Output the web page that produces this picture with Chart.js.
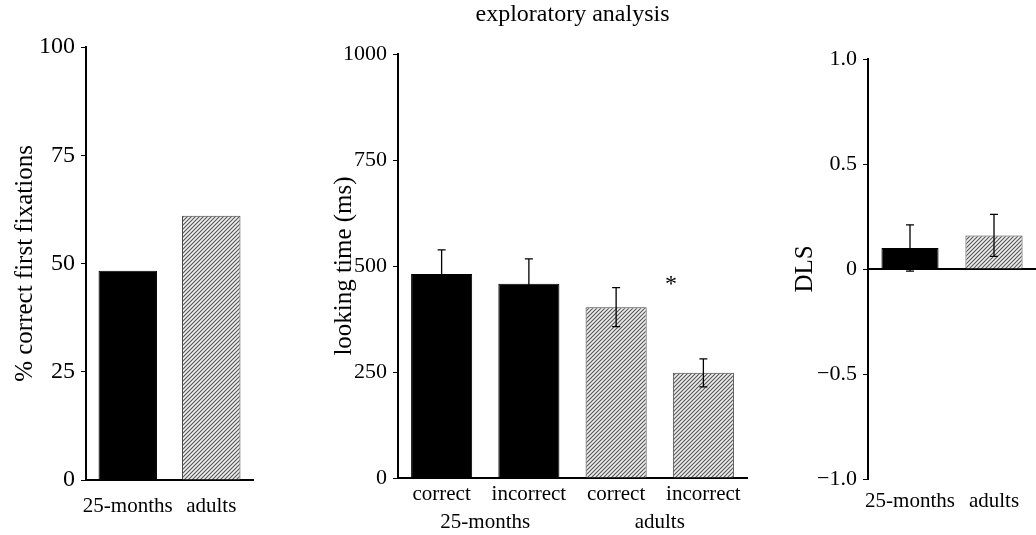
<!DOCTYPE html>
<html>
<head>
<meta charset="utf-8">
<script src="https://cdn.jsdelivr.net/npm/chart.js@4"></script>
<style>
  html, body { margin: 0; padding: 0; background: #fff; }
  #wrap { position: relative; width: 1036px; height: 535px; }
  .panel { position: absolute; top: 0; height: 535px; }
  #p1 { left: 0; width: 262px; }
  #p2 { left: 325px; width: 430px; }
  #p3 { left: 790px; width: 246px; }
</style>
</head>
<body>
<div id="wrap">
  <div class="panel" id="p1"><canvas id="c1"></canvas></div>
  <div class="panel" id="p2"><canvas id="c2"></canvas></div>
  <div class="panel" id="p3"><canvas id="c3"></canvas></div>
</div>
<script>
// panel 1 - first fixations
const groups = ['25-months', 'adults'];
const fixationPct = [48.3, 61.0];
const pctTicks = ['0', '25', '50', '75', '100'];

// panel 2 - looking time
const lookCats = ['correct', 'incorrect', 'correct', 'incorrect'];
const lookGroups = ['25-months', 'adults'];
const lookMs = [481, 458, 403, 248];
const lookErr = [57, 59, 46, 33];
const msTicks = ['0', '250', '500', '750', '1000'];

// panel 3 - DLS
const dlsVals = [0.10, 0.16];
const dlsErr = [0.11, 0.10];
const dlsTicks = ['\u22121.0', '\u22120.5', '0', '0.5', '1.0'];

Chart.defaults.font.family = "'Liberation Serif', 'Times New Roman', serif";
Chart.defaults.color = '#000';

// grey hatched fill used for the adult bars
function hatch() {
    const c = document.createElement('canvas');
    c.width = 4; c.height = 4;
    const g = c.getContext('2d');
    g.fillStyle = '#efefef';
    g.fillRect(0, 0, 4, 4);
    g.strokeStyle = '#555';
    g.lineWidth = 1.1;
    g.beginPath();
    g.moveTo(0, 4); g.lineTo(4, 0);
    g.moveTo(-1, 1); g.lineTo(1, -1);
    g.moveTo(3, 5); g.lineTo(5, 3);
    g.stroke();
    return g.createPattern(c, 'repeat');
}
const hatchFill = hatch();

const errorBars = {
    id: 'errorBars',
    afterDatasetsDraw(chart, args, opts) {
        if (!opts.errors) return;
        const ctx = chart.ctx;
        const y = chart.scales.y;
        const vals = chart.data.datasets[0].data;
        ctx.save();
        ctx.strokeStyle = '#000';
        ctx.lineWidth = 1.3;
        chart.getDatasetMeta(0).data.forEach((bar, i) => {
            const top = y.getPixelForValue(vals[i] + opts.errors[i]);
            const bot = y.getPixelForValue(vals[i] - opts.errors[i]);
            ctx.beginPath();
            ctx.moveTo(bar.x, top); ctx.lineTo(bar.x, bot);
            ctx.moveTo(bar.x - 4, top); ctx.lineTo(bar.x + 4, top);
            ctx.moveTo(bar.x - 4, bot); ctx.lineTo(bar.x + 4, bot);
            ctx.stroke();
        });
        ctx.restore();
    }
};

const sigMarks = {
    id: 'sigMarks',
    afterDatasetsDraw(chart, args, opts) {
        if (!opts.marks) return;
        const ctx = chart.ctx;
        ctx.save();
        ctx.font = "24px 'Liberation Serif', serif";
        ctx.fillStyle = '#000';
        ctx.textAlign = 'center';
        ctx.textBaseline = 'middle';
        opts.marks.forEach(m => {
            ctx.fillText(m.text, chart.scales.x.getPixelForValue(m.index), chart.scales.y.getPixelForValue(m.value));
        });
        ctx.restore();
    }
};

const yAxis = (min, max, step, labels, tickSize, title, titlePad, width) => ({
    min: min, max: max,
    ticks: { stepSize: step, callback: (v, i) => labels[i], font: { size: tickSize }, padding: 6 },
    grid: { drawOnChartArea: false, tickLength: 5, color: '#000', lineWidth: 1 },
    border: { color: '#000', width: 2 },
    title: { display: true, text: title, font: { size: 25 }, padding: { top: titlePad, bottom: 0 } },
    afterFit: (s) => { s.width = width; }
});

const xLabels = (pad) => ({
    font: { size: 21 }, padding: pad, maxRotation: 0, minRotation: 0, autoSkip: false
});

// panel 1
new Chart(document.getElementById('c1'), {
    type: 'bar',
    data: {
        labels: groups,
        datasets: [{
            data: fixationPct,
            backgroundColor: ['#000', hatchFill],
            borderColor: ['#000', '#444'],
            borderWidth: 1,
            barPercentage: 0.7,
            categoryPercentage: 1
        }]
    },
    options: {
        responsive: true,
        maintainAspectRatio: false,
        animation: false,
        layout: { padding: { top: 47, right: 9, bottom: 0, left: 0 } },
        plugins: { legend: { display: false }, tooltip: { enabled: false } },
        scales: {
            x: {
                offset: true,
                grid: { display: false, drawTicks: false },
                border: { color: '#000', width: 2 },
                ticks: xLabels(14),
                afterFit: (s) => { s.height = 55; }
            },
            y: yAxis(0, 100, 25, pctTicks, 24, '% correct first fixations', 10, 86)
        }
    }
});

// panel 2
new Chart(document.getElementById('c2'), {
    type: 'bar',
    data: {
        labels: lookCats,
        datasets: [{
            data: lookMs,
            backgroundColor: ['#000', '#000', hatchFill, hatchFill],
            borderColor: ['#000', '#000', '#444', '#444'],
            borderWidth: 1,
            barPercentage: 0.7,
            categoryPercentage: 1
        }]
    },
    options: {
        responsive: true,
        maintainAspectRatio: false,
        animation: false,
        layout: { padding: { top: 0, right: 8, bottom: 0, left: 0 } },
        plugins: {
            legend: { display: false },
            tooltip: { enabled: false },
            title: {
                display: true,
                text: 'exploratory analysis',
                fullSize: false,
                color: '#000',
                font: { size: 24, weight: 'normal' },
                padding: { top: 0.6, bottom: 24.6 }
            },
            errorBars: { errors: lookErr },
            sigMarks: { marks: [{ text: '*', index: 2.63, value: 455 }] }
        },
        scales: {
            x: {
                offset: true,
                weight: 0,
                grid: { display: false, drawTicks: false },
                border: { color: '#000', width: 2 },
                ticks: xLabels(4),
                afterFit: (s) => { s.height = 30; }
            },
            x2: {
                type: 'category',
                axis: 'x',
                position: 'bottom',
                labels: lookGroups,
                offset: true,
                weight: 1,
                grid: { display: false, drawTicks: false },
                border: { display: false },
                ticks: xLabels(2),
                afterFit: (s) => { s.height = 27; }
            },
            y: yAxis(0, 1000, 250, msTicks, 22, 'looking time (ms)', 4, 73)
        }
    },
    plugins: [errorBars, sigMarks]
});

// panel 3
new Chart(document.getElementById('c3'), {
    type: 'bar',
    data: {
        labels: groups,
        datasets: [{
            data: dlsVals,
            backgroundColor: ['#000', hatchFill],
            borderColor: ['#000', '#444'],
            borderWidth: 1,
            barPercentage: 0.68,
            categoryPercentage: 1
        }]
    },
    options: {
        responsive: true,
        maintainAspectRatio: false,
        animation: false,
        layout: { padding: { top: 59, right: 0, bottom: 0, left: 0 } },
        plugins: {
            legend: { display: false },
            tooltip: { enabled: false },
            errorBars: { errors: dlsErr }
        },
        scales: {
            x: {
                offset: true,
                grid: { display: false, drawTicks: false },
                border: { display: false },
                ticks: xLabels(10),
                afterFit: (s) => { s.height = 56; }
            },
            x0: {
                type: 'category',
                axis: 'x',
                position: { y: 0 },
                labels: groups,
                offset: true,
                z: 1,
                grid: { display: false, drawTicks: false },
                border: { color: '#000', width: 2 },
                ticks: { display: false }
            },
            y: yAxis(-1, 1, 0.5, dlsTicks, 22, 'DLS', 0, 78)
        }
    },
    plugins: [errorBars]
});
</script>
</body>
</html>
